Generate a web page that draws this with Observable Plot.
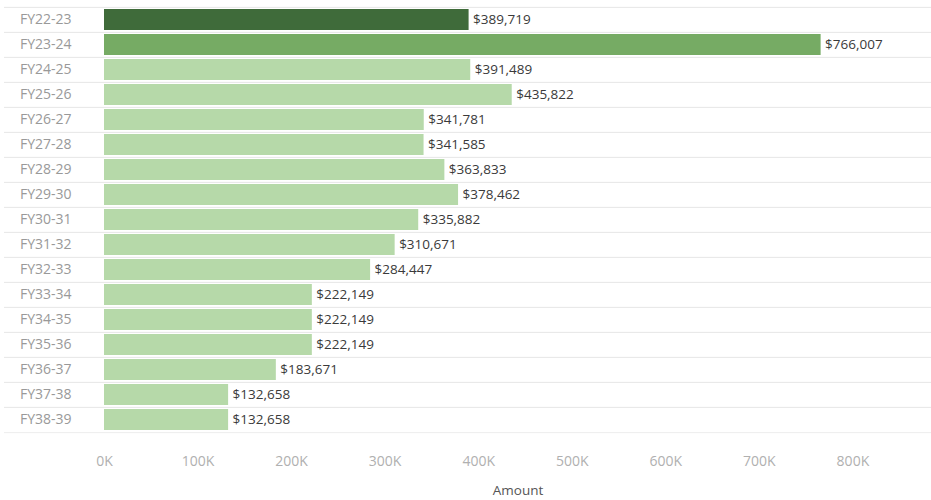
<!DOCTYPE html>
<html><head><meta charset="utf-8">
<script src="https://cdn.jsdelivr.net/npm/d3@7"></script>
<script src="https://cdn.jsdelivr.net/npm/@observablehq/plot@0.6"></script>
<style>
body{margin:0;background:#fff;}
#chart svg{display:block;}
</style>
</head><body><div id="chart"></div>
<script>
const years = ["FY22-23","FY23-24","FY24-25","FY25-26","FY26-27","FY27-28","FY28-29","FY29-30","FY30-31","FY31-32","FY32-33","FY33-34","FY34-35","FY35-36","FY36-37","FY37-38","FY38-39"];
const amounts = [389719,766007,391489,435822,341781,341585,363833,378462,335882,310671,284447,222149,222149,222149,183671,132658,132658];
const status = ["Prior","Current","Future","Future","Future","Future","Future","Future","Future","Future","Future","Future","Future","Future","Future","Future","Future"];
const statusNames = ["Prior","Current","Future"];
const tickValues = [0,100000,200000,300000,400000,500000,600000,700000,800000];

const data = years.map((y,i)=>({year:y, amount:amounts[i], status:status[i]}));
const fmt = d3.format("$,");

const chart = Plot.plot({
  width: 931, height: 500,
  marginTop: 5, marginBottom: 66, marginLeft: 104, marginRight: 0,
  style: {fontFamily: "'Open Sans', sans-serif", fontSize: "14px", background: "#fff"},
  x: {domain: [0, 884000]},
  y: {domain: years, paddingInner: 0.16, paddingOuter: 0.08},
  color: {domain: statusNames, range: ["#3f6b3a", "#76ab64", "#b6d9a9"]},
  marks: [
    Plot.ruleY(years, {y: d => d, dy: -12.62, stroke: "#e6e6e6", insetLeft: -100}),
    Plot.ruleY([years[years.length-1]], {y: d => d, dy: 12.62, stroke: "#eeeeee", insetLeft: -100}),
    Plot.barX(data, {x: "amount", y: "year", fill: "status"}),
    Plot.text(data, {x: "amount", y: "year", text: d => fmt(d.amount), textAnchor: "start", dx: 4, fill: "#3a3a3a", fontSize: 13.5}),
    Plot.axisY({tickSize: 0, tickPadding: 33, fill: "#999", fontSize: 14, label: null}),
    Plot.axisX({ticks: tickValues, tickFormat: d => d/1000 + "K", tickSize: 0, tickPadding: 22, fill: "#b0b0b0", fontSize: 14,
      label: "Amount", labelAnchor: "center", labelArrow: "none", labelOffset: 60})
  ]
});
chart.querySelectorAll("[aria-label='x-axis label'] text, [aria-label='x-axis label']").forEach(e=>{e.setAttribute("fill","#555"); e.setAttribute("font-size","13.5");});
document.getElementById("chart").append(chart);
</script>
</body></html>
